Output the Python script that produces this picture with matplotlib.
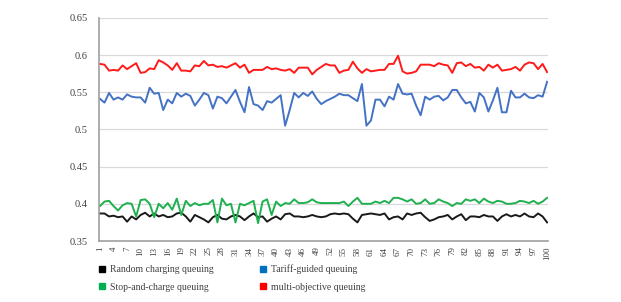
import matplotlib
matplotlib.use("Agg")
import matplotlib.pyplot as plt
from matplotlib.lines import Line2D

x = list(range(1, 101))

random_q = [0.387, 0.387, 0.383, 0.384, 0.382, 0.383, 0.376, 0.383, 0.379, 0.385,
            0.388, 0.383, 0.387, 0.383, 0.385, 0.382, 0.383, 0.387, 0.388, 0.383,
            0.376, 0.385, 0.382, 0.379, 0.375, 0.382, 0.385, 0.380, 0.379, 0.383,
            0.385, 0.383, 0.378, 0.383, 0.387, 0.382, 0.383, 0.376, 0.380, 0.383,
            0.379, 0.386, 0.387, 0.383, 0.383, 0.382, 0.383, 0.385, 0.383, 0.382,
            0.383, 0.386, 0.387, 0.386, 0.387, 0.386, 0.380, 0.375, 0.385, 0.386,
            0.387, 0.386, 0.385, 0.387, 0.379, 0.382, 0.383, 0.379, 0.387, 0.385,
            0.387, 0.388, 0.382, 0.377, 0.379, 0.382, 0.383, 0.385, 0.379, 0.383,
            0.386, 0.378, 0.383, 0.383, 0.382, 0.385, 0.383, 0.383, 0.377, 0.383,
            0.386, 0.383, 0.385, 0.383, 0.387, 0.383, 0.382, 0.387, 0.383, 0.375]

tariff_q = [0.541, 0.536, 0.549, 0.540, 0.543, 0.540, 0.547, 0.544, 0.543, 0.543,
            0.536, 0.556, 0.548, 0.549, 0.526, 0.540, 0.535, 0.549, 0.544, 0.548,
            0.545, 0.532, 0.540, 0.549, 0.546, 0.528, 0.544, 0.542, 0.535, 0.544,
            0.553, 0.537, 0.523, 0.557, 0.534, 0.532, 0.526, 0.538, 0.536, 0.541,
            0.546, 0.505, 0.526, 0.549, 0.543, 0.549, 0.545, 0.551, 0.541, 0.534,
            0.538, 0.541, 0.544, 0.548, 0.546, 0.546, 0.542, 0.538, 0.561, 0.505,
            0.512, 0.540, 0.540, 0.531, 0.544, 0.540, 0.561, 0.548, 0.547, 0.548,
            0.532, 0.519, 0.544, 0.540, 0.544, 0.545, 0.539, 0.543, 0.553, 0.553,
            0.543, 0.535, 0.537, 0.524, 0.549, 0.543, 0.524, 0.539, 0.556, 0.523,
            0.523, 0.552, 0.543, 0.543, 0.548, 0.543, 0.542, 0.546, 0.544, 0.564]

stop_q = [0.397, 0.403, 0.404, 0.397, 0.391, 0.398, 0.401, 0.400, 0.383, 0.405,
          0.406, 0.400, 0.382, 0.400, 0.394, 0.401, 0.392, 0.407, 0.385, 0.404,
          0.397, 0.401, 0.398, 0.400, 0.400, 0.405, 0.375, 0.407, 0.398, 0.400,
          0.375, 0.400, 0.398, 0.401, 0.404, 0.374, 0.403, 0.406, 0.385, 0.403,
          0.397, 0.401, 0.400, 0.406, 0.401, 0.401, 0.402, 0.406, 0.402, 0.401,
          0.401, 0.401, 0.401, 0.401, 0.403, 0.397, 0.403, 0.408, 0.400, 0.400,
          0.400, 0.403, 0.401, 0.404, 0.401, 0.408, 0.408, 0.406, 0.403, 0.406,
          0.400, 0.401, 0.406, 0.400, 0.401, 0.406, 0.403, 0.401, 0.397, 0.401,
          0.400, 0.406, 0.404, 0.406, 0.401, 0.407, 0.403, 0.401, 0.404, 0.403,
          0.400, 0.400, 0.401, 0.404, 0.403, 0.401, 0.404, 0.400, 0.403, 0.408]

multi_q = [0.588, 0.587, 0.579, 0.580, 0.579, 0.586, 0.581, 0.585, 0.589, 0.576,
           0.577, 0.582, 0.581, 0.593, 0.590, 0.586, 0.580, 0.589, 0.579, 0.579,
           0.578, 0.586, 0.585, 0.592, 0.586, 0.587, 0.584, 0.585, 0.583, 0.586,
           0.589, 0.583, 0.587, 0.576, 0.580, 0.580, 0.580, 0.584, 0.581, 0.582,
           0.580, 0.579, 0.581, 0.576, 0.583, 0.583, 0.583, 0.574, 0.580, 0.584,
           0.588, 0.586, 0.586, 0.576, 0.579, 0.580, 0.591, 0.582, 0.576, 0.581,
           0.578, 0.579, 0.580, 0.580, 0.588, 0.588, 0.599, 0.578, 0.575, 0.576,
           0.578, 0.587, 0.587, 0.587, 0.585, 0.589, 0.587, 0.586, 0.576, 0.589,
           0.590, 0.585, 0.588, 0.583, 0.584, 0.579, 0.587, 0.583, 0.587, 0.579,
           0.580, 0.581, 0.584, 0.579, 0.587, 0.590, 0.589, 0.581, 0.588, 0.577]

series_names = ["Random charging queuing", "Stop-and-charge queuing",
                "Tariff-guided queuing", "multi-objective queuing"]
x_tick_labels = [str(v) for v in range(1, 101, 3)]
y_ticks = [0.35, 0.4, 0.45, 0.5, 0.55, 0.6, 0.65]
y_tick_labels = ["0.35", "0.4", "0.45", "0.5", "0.55", "0.6", "0.65"]

plt.rcParams['font.family'] = ['Liberation Serif', 'DejaVu Serif']

fig = plt.figure(figsize=(6.21, 3.02), dpi=100)
ax = fig.add_axes([99/621, 1-241/302, 449/621, (241-17.8)/302])

line_cols = {"black": "#1a1a1a", "green": "#20b050", "blue": "#4472c4", "red": "#ff1a1a"}
ax.plot(x, random_q, color=line_cols["black"], lw=1.4)
ax.plot(x, stop_q, color=line_cols["green"], lw=1.4)
ax.plot(x, tariff_q, color=line_cols["blue"], lw=1.4)
ax.plot(x, multi_q, color=line_cols["red"], lw=1.4)

ax.set_xlim(0.78, 100.2)
ax.set_ylim(0.35, 0.65)
ax.set_yticks(y_ticks)
ax.set_yticklabels(y_tick_labels, fontsize=7.5, color="#404040")
ax.set_xticks(list(range(1, 101, 3)))
ax.set_xticklabels(x_tick_labels, rotation=90, fontsize=6.5, color="#404040")
ax.tick_params(axis='x', length=0, pad=4)
ax.tick_params(axis='y', length=0, pad=8)
ax.grid(axis='y', color="#d9d9d9", lw=0.9)
ax.set_axisbelow(True)
for s in ["top", "right"]:
    ax.spines[s].set_visible(False)
ax.spines["left"].set_color("#a0a0a0")
ax.spines["bottom"].set_color("#a0a0a0")
ax.spines["left"].set_linewidth(1.2)
ax.spines["bottom"].set_linewidth(1.2)

leg_cols = ["#000000", "#00b050", "#0070c0", "#ff0000"]
handles = [Line2D([0], [0], marker='s', color='none', markerfacecolor=c,
                  markeredgecolor=c, markersize=5) for c in leg_cols]
fig.legend(handles, series_names, loc='upper left', ncol=2,
           bbox_to_anchor=(88/621, 1-256/302), frameon=False, fontsize=7,
           handlelength=1.0, handletextpad=0.4, columnspacing=4.5,
           labelspacing=0.85, labelcolor="#404040")

fig.savefig("out.png", dpi=100)
